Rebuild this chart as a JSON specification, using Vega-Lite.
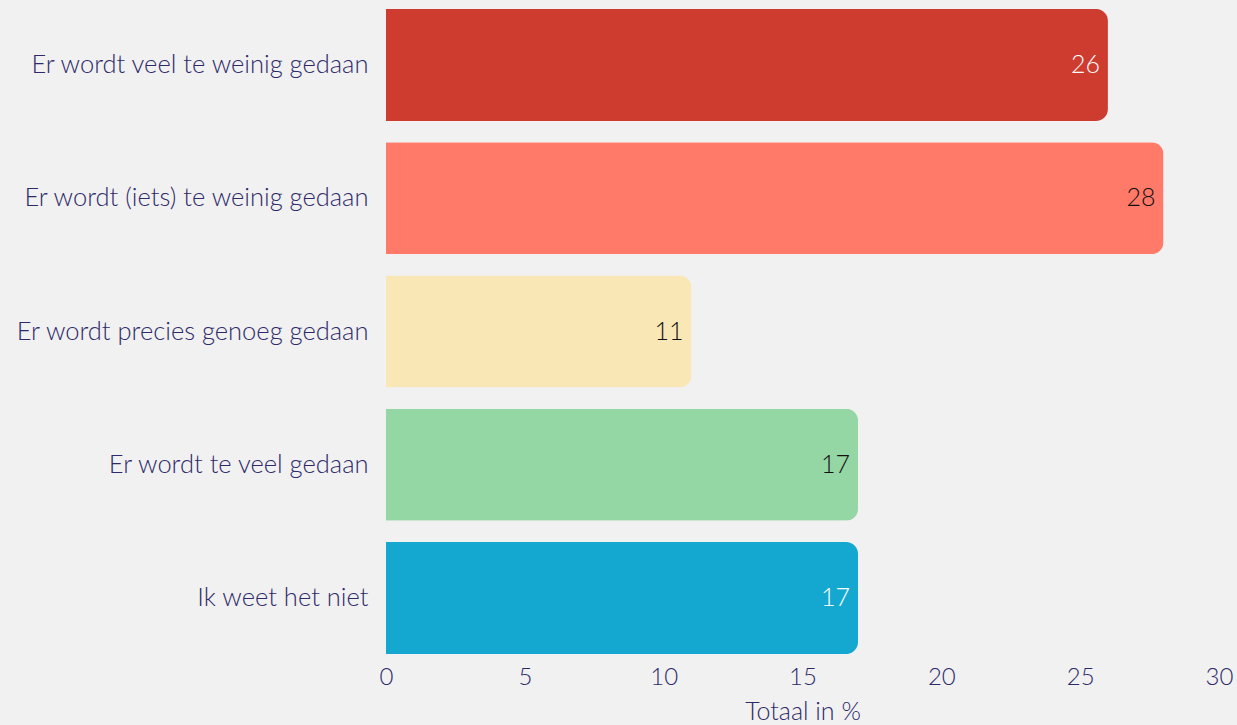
{
  "$schema": "https://vega.github.io/schema/vega-lite/v6.json",
  "width": 833,
  "height": 663,
  "autosize": {"type": "none"},
  "padding": {"left": 386, "top": 0, "right": 18, "bottom": 62},
  "background": "#f1f1f1",
  "config": {"view": {"stroke": null}, "font": "Lato"},
  "data": {"values": [
    {"antwoord": "Er wordt veel te weinig gedaan", "pct": 26, "kleur": "#ce3c2f", "tekst": "#ffffff"},
    {"antwoord": "Er wordt (iets) te weinig gedaan", "pct": 28, "kleur": "#ff7a68", "tekst": "#111111"},
    {"antwoord": "Er wordt precies genoeg gedaan", "pct": 11, "kleur": "#fae7b6", "tekst": "#111111"},
    {"antwoord": "Er wordt te veel gedaan", "pct": 17, "kleur": "#95d6a5", "tekst": "#111111"},
    {"antwoord": "Ik weet het niet", "pct": 17, "kleur": "#14a8d0", "tekst": "#ffffff"}
  ]},
  "encoding": {
    "y": {
      "field": "antwoord", "type": "nominal", "sort": null,
      "scale": {"paddingInner": 0.16, "paddingOuter": 0.067},
      "axis": {"title": null, "domain": false, "ticks": false, "labelFontSize": 25.5, "labelColor": "#2e2a6a", "labelPadding": 18, "labelFont": "Lato", "labelFontWeight": 300, "labelLimit": 400}
    },
    "x": {
      "field": "pct", "type": "quantitative",
      "scale": {"domain": [0, 30], "nice": false},
      "axis": {"title": "Totaal in %", "values": [0, 5, 10, 15, 20, 25, 30], "domain": false, "ticks": false, "grid": false, "labelFontSize": 24, "labelColor": "#2e2a6a", "labelFontWeight": 300, "labelPadding": 2, "titleFontSize": 25, "titleColor": "#2e2a6a", "titleFontWeight": 300, "titlePadding": 10, "labelFlush": false}
    }
  },
  "layer": [
    {
      "mark": {"type": "bar", "cornerRadiusEnd": 12},
      "encoding": {"color": {"field": "kleur", "type": "nominal", "scale": null}}
    },
    {
      "mark": {"type": "text", "align": "right", "dx": -8, "fontSize": 25, "fontWeight": 300, "baseline": "middle"},
      "encoding": {
        "text": {"field": "pct", "type": "quantitative"},
        "color": {"field": "tekst", "type": "nominal", "scale": null}
      }
    }
  ]
}
